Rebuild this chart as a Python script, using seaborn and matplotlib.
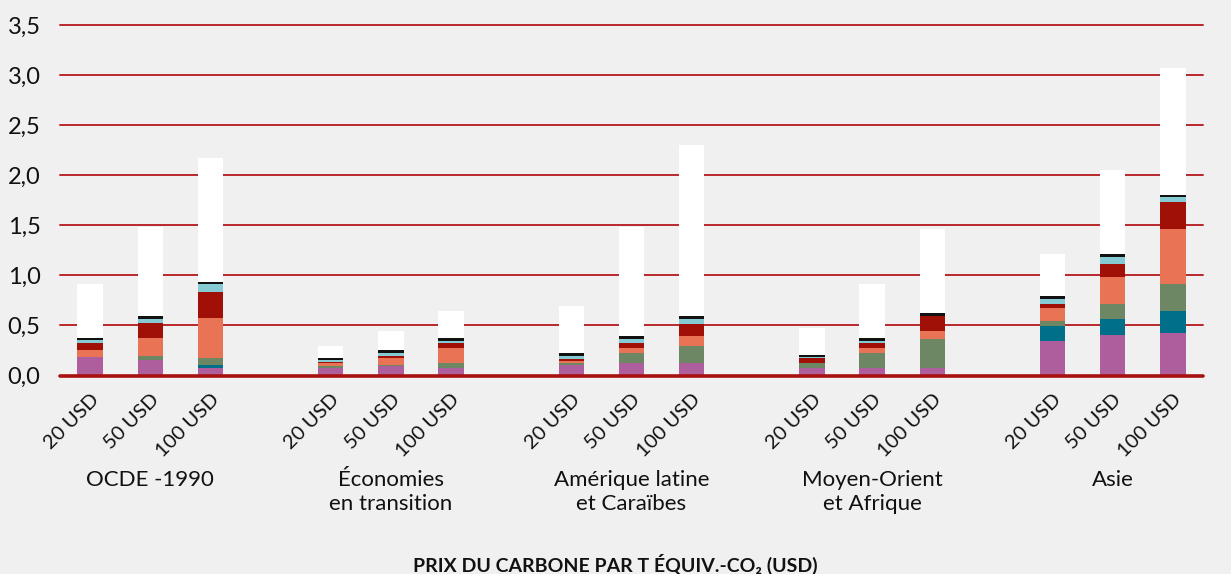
import matplotlib
matplotlib.use("Agg")
import matplotlib.pyplot as plt
import seaborn as sns
import pandas as pd
import numpy as np

# ---------------- data ----------------
regions = ["OCDE -1990", "Économies\nen transition", "Amérique latine\net Caraïbes",
           "Moyen-Orient\net Afrique", "Asie"]
prices = ["20 USD", "50 USD", "100 USD"]

# stacked segments (bottom -> top), one value per bar (region x price)
seg_violet = [0.18, 0.15, 0.075, 0.078, 0.098, 0.075, 0.10, 0.12, 0.12, 0.075, 0.078, 0.078, 0.347, 0.40, 0.424]
seg_bleu   = [0.0, 0.0, 0.026, 0.0, 0.0, 0.0, 0.0, 0.0, 0.0, 0.0, 0.0, 0.0, 0.15, 0.166, 0.219]
seg_vert   = [0.005, 0.046, 0.07, 0.02, 0.005, 0.05, 0.02, 0.10, 0.176, 0.046, 0.143, 0.289, 0.046, 0.149, 0.273]
seg_orange = [0.073, 0.18, 0.40, 0.027, 0.071, 0.149, 0.027, 0.053, 0.10, 0.003, 0.053, 0.08, 0.127, 0.273, 0.545]
seg_rouge  = [0.067, 0.146, 0.266, 0.005, 0.023, 0.047, 0.02, 0.047, 0.12, 0.053, 0.047, 0.146, 0.046, 0.123, 0.269]
seg_cyan   = [0.026, 0.047, 0.077, 0.021, 0.027, 0.026, 0.03, 0.046, 0.05, 0.003, 0.026, 0.003, 0.05, 0.073, 0.05]
seg_noir   = [0.024, 0.026, 0.023, 0.023, 0.027, 0.027, 0.023, 0.03, 0.03, 0.027, 0.027, 0.027, 0.027, 0.026, 0.027]
seg_blanc  = [0.54, 0.89, 1.236, 0.12, 0.193, 0.269, 0.47, 1.087, 1.705, 0.27, 0.538, 0.837, 0.418, 0.838, 1.259]

segments = [seg_violet, seg_bleu, seg_vert, seg_orange, seg_rouge, seg_cyan, seg_noir, seg_blanc]
colors = ["#AE5E9C", "#00708A", "#6D8764", "#E87355", "#A01006", "#86CBD3", "#111111", "#FFFFFF"]
yticks = [0.0, 0.5, 1.0, 1.5, 2.0, 2.5, 3.0, 3.5]
xlabel = "PRIX DU CARBONE PAR T ÉQUIV.-CO₂ (USD)"

# ---------------- build slots ----------------
slots = []
bar_keys = []
for gi, r in enumerate(regions):
    for p in prices:
        k = f"{gi}|{p}"
        slots.append(k)
        bar_keys.append(k)
    if gi < len(regions) - 1:
        slots.append(f"gap{gi}")

rows = []
cum = np.zeros(len(bar_keys))
for li, seg in enumerate(segments):
    cum = cum + np.array(seg)
    for k, v in zip(bar_keys, cum):
        rows.append({"slot": k, "layer": li, "cum": v})
df = pd.DataFrame(rows)

# ---------------- figure ----------------
sns.set_theme(style="white")
bg = "#F0F0F0"
plt.rcParams["font.family"] = ["Lato", "DejaVu Sans"]
fig = plt.figure(figsize=(12.31, 5.74), dpi=100, facecolor=bg)
ax = fig.add_axes([60 / 1231, 1 - 375.5 / 574, 1143 / 1231, (375.5 - 25) / 574])
ax.set_facecolor(bg)

grid_c = "#B8282B"
for yv in yticks[1:]:
    ax.axhline(yv, color=grid_c, lw=1.4, zorder=0, clip_on=False)

for li in reversed(range(len(segments))):
    sns.barplot(data=df[df.layer == li], x="slot", y="cum", order=slots,
                color=colors[li], saturation=1, width=0.42, errorbar=None,
                edgecolor="none", linewidth=0, ax=ax, zorder=2)

ax.axhline(0, color="#A81010", lw=2.6, zorder=3, clip_on=False)

ax.set_xlim(-0.5, len(slots) - 0.5)
ax.set_ylim(0, 3.5)
ax.set_yticks(yticks)
ax.set_yticklabels([f"{v:.1f}".replace(".", ",") for v in yticks], fontsize=17, color="#111111")
ax.tick_params(axis="y", length=0, pad=14)

ax.set_xticks(range(len(slots)))
ax.set_xticklabels([s.split("|")[1] if "|" in s else "" for s in slots],
                   rotation=45, ha="right", va="top", rotation_mode="anchor",
                   fontsize=14.5, color="#111111")
ax.tick_params(axis="x", which="major", length=0, pad=11)
ax.set_xticks(np.arange(-0.5, len(slots), 1.0), minor=True)
ax.tick_params(axis="x", which="minor", length=5, width=1, color="#C05050", direction="out")

for sp in ax.spines.values():
    sp.set_visible(False)
ax.set_xlabel("")
ax.set_ylabel("")

# group labels
for gi, r in enumerate(regions):
    center = slots.index(f"{gi}|50 USD")
    ax.text(center, -0.94, r, ha="center", va="top", fontsize=16, color="#111111",
            linespacing=1.3)

fig.text(0.5, 1 - 564 / 574, xlabel, ha="center", va="center", fontsize=14,
         fontweight="bold", family=["Lato", "DejaVu Sans"], color="#111111")

fig.savefig("out.png", dpi=100, facecolor=bg)
